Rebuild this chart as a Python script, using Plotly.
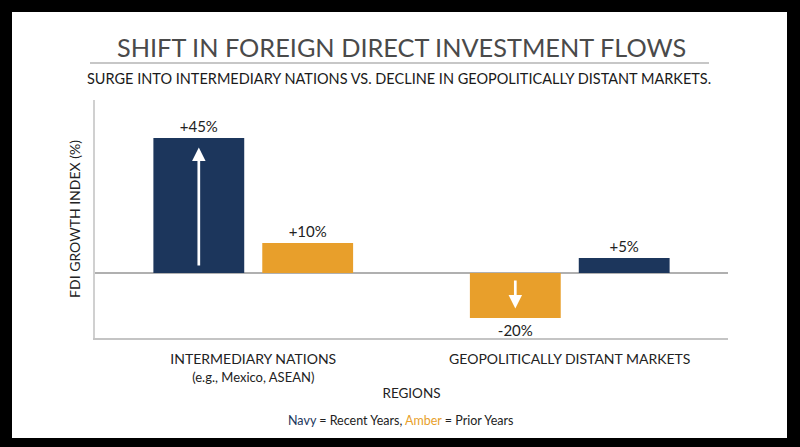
import plotly.graph_objects as go

# ---- data ----
regions = ["INTERMEDIARY NATIONS", "GEOPOLITICALLY DISTANT MARKETS"]
region_notes = ["(e.g., Mexico, ASEAN)", ""]
recent_values = [45, 5]          # navy bars (bar length as drawn)
prior_values = [10, -15]         # amber bars (bar length as drawn; labelled -20%)
recent_labels = ["+45%", "+5%"]
prior_labels = ["+10%", "-20%"]

NAVY = "#1c365c"
AMBER = "#e89f2b"
FONT = "Lato"

bar_w = 0.287
gap = 0.057
left_off = -(bar_w + gap / 2)
right_off = gap / 2
# navy is left in the first group, right in the second
recent_offsets = [left_off, right_off]
prior_offsets = [right_off, left_off]

ticktext = []
for r, n in zip(regions, region_notes):
    if n:
        ticktext.append(f"{r}<br><span style='font-size:13px'>{n}</span>")
    else:
        ticktext.append(r)

fig = go.Figure()
fig.add_trace(go.Bar(
    x=list(range(len(regions))), y=recent_values, width=bar_w, offset=recent_offsets,
    marker=dict(color=NAVY, line=dict(width=0)), name="Recent Years",
    text=recent_labels, textposition="outside", cliponaxis=False,
    textfont=dict(family=FONT, size=15, color="#222222"),
))
fig.add_trace(go.Bar(
    x=list(range(len(regions))), y=prior_values, width=bar_w, offset=prior_offsets,
    marker=dict(color=AMBER, line=dict(width=0)), name="Prior Years",
    text=prior_labels, textposition="outside", cliponaxis=False,
    textfont=dict(family=FONT, size=15, color="#222222"),
))

# white arrows inside the bars
for vals, offs, in [(recent_values, recent_offsets), (prior_values, prior_offsets)]:
    for i, (v, o) in enumerate(zip(vals, offs)):
        if abs(v) < 12:
            continue
        s = 1 if v > 0 else -1
        xc = i + o + bar_w / 2
        fig.add_annotation(
            x=xc, y=v - s * 3.2, ax=xc, ay=s * 2, xref="x", yref="y", axref="x", ayref="y",
            showarrow=True, arrowhead=2, arrowwidth=2.7, arrowsize=1.0,
            arrowcolor="white", text="",
        )

# white card on black background
fig.add_shape(type="rect", xref="paper", yref="paper",
              x0=(12 - 95) / 633, x1=(787 - 95) / 633,
              y0=(338 - 438) / 238, y1=(338 - 12) / 238,
              fillcolor="white", line=dict(width=0), layer="below")
# rule under the title
fig.add_shape(type="line", xref="paper", yref="paper",
              x0=(90 - 95) / 633, x1=(709 - 95) / 633,
              y0=(338 - 63) / 238, y1=(338 - 63) / 238,
              line=dict(color="#b5b5b5", width=1.5))

fig.add_annotation(text="SHIFT IN FOREIGN DIRECT INVESTMENT FLOWS",
                   xref="paper", yref="paper", x=(401 - 95) / 633, y=(338 - 47) / 238,
                   showarrow=False, xanchor="center", yanchor="middle",
                   font=dict(family=FONT, size=25.3, color="#4a4a4a"))
fig.add_annotation(text="SURGE INTO INTERMEDIARY NATIONS VS. DECLINE IN GEOPOLITICALLY DISTANT MARKETS.",
                   xref="paper", yref="paper", x=(399 - 95) / 633, y=(338 - 78) / 238,
                   showarrow=False, xanchor="center", yanchor="middle",
                   font=dict(family=FONT, size=14.5, color="#1a1a1a"))
fig.add_annotation(text=f"<span style='color:{NAVY}'>Navy</span> = Recent Years, "
                        f"<span style='color:{AMBER}'>Amber</span> = Prior Years",
                   xref="paper", yref="paper", x=(400 - 95) / 633, y=(338 - 420) / 238,
                   showarrow=False, xanchor="center", yanchor="middle",
                   font=dict(family=FONT, size=12.5, color="#222222"))

fig.update_layout(
    width=800, height=447,
    margin=dict(l=95, r=72, t=100, b=109),
    paper_bgcolor="black", plot_bgcolor="white",
    barmode="overlay", showlegend=False,
    font=dict(family=FONT, color="#222222"),
    xaxis=dict(
        range=[-0.5, 1.5], tickmode="array", tickvals=list(range(len(regions))),
        ticktext=ticktext, showgrid=False, zeroline=False,
        showline=True, linecolor="#c4c4c4", linewidth=1.5, ticks="",
        tickfont=dict(family=FONT, size=14, color="#222222"),
        ticklabelstandoff=7,
        title=dict(text="REGIONS", font=dict(family=FONT, size=13.5, color="#222222"), standoff=5),
    ),
    yaxis=dict(
        range=[-21.67, 57.67], showgrid=False, showticklabels=False, ticks="",
        zeroline=True, zerolinecolor="#b0b0b0", zerolinewidth=1.5,
        showline=True, linecolor="#d0d0d0", linewidth=1.5,
        title=dict(text="FDI GROWTH INDEX (%)", font=dict(family=FONT, size=14, color="#222222"), standoff=9),
    ),
)

fig.write_html(
    "out.html",
    config={"displayModeBar": False},
    post_script="document.body.style.margin='0';document.body.style.background='black';",
)
